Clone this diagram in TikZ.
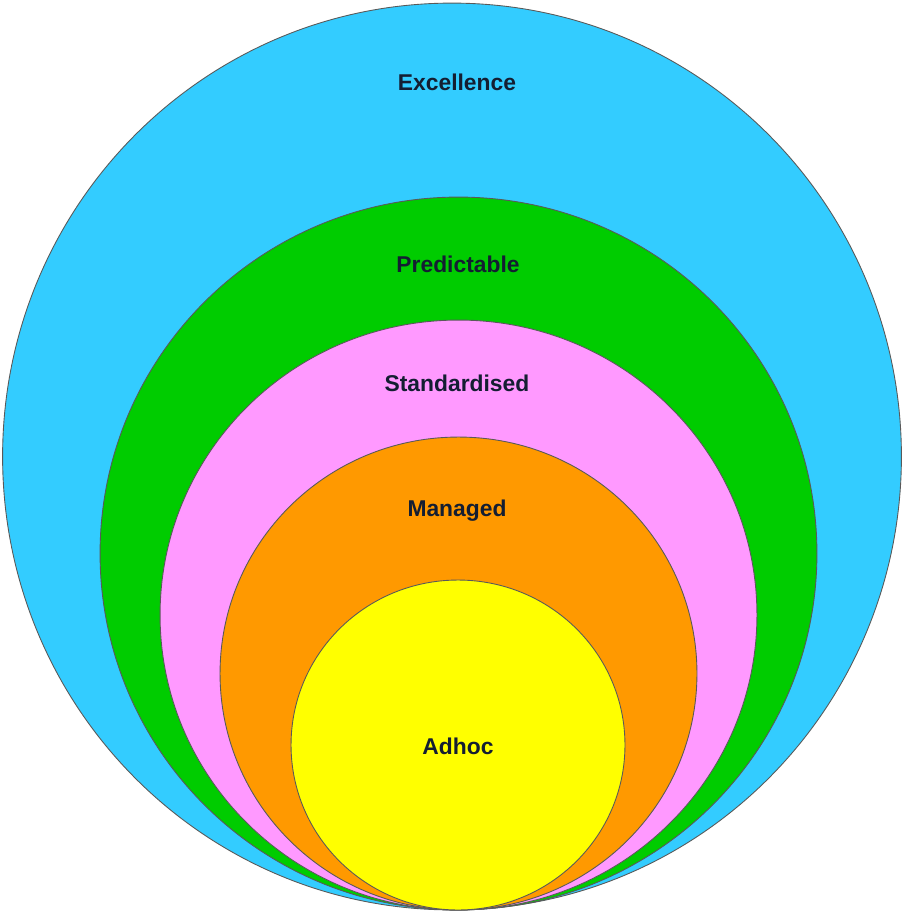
\documentclass[tikz,border=0pt]{standalone}
\usepackage{fontspec}
\setmainfont{Liberation Sans}
\definecolor{skyblue}{RGB}{51,204,255}
\definecolor{leafgreen}{RGB}{0,204,0}
\definecolor{softpink}{RGB}{255,153,255}
\definecolor{deeporange}{RGB}{255,153,0}
\definecolor{brightyellow}{RGB}{255,255,0}
\definecolor{labelnavy}{RGB}{20,30,50}
\usetikzlibrary{shapes.geometric}

\tikzset{
  level/.style={ellipse, draw=black!65, line width=0.5pt, inner sep=0pt},
  levellabel/.style={font=\fontsize{13}{15}\selectfont\bfseries, text=labelnavy}
}

\begin{document}
\begin{tikzpicture}[x=0.02cm, y=-0.02cm]
  \useasboundingbox (0,0) rectangle (904,912);
  % nested maturity levels, all touching at the bottom
  \node[level, fill=skyblue, minimum width=17.98cm, minimum height=18.14cm]
    (excellence) at (452,456.5) {};
  \node[level, fill=leafgreen, minimum width=14.34cm, minimum height=14.26cm]
    (predictable) at (458.5,553.5) {};
  \node[level, fill=softpink, minimum width=11.94cm, minimum height=11.8cm]
    (standardised) at (458.5,615) {};
  \node[level, fill=deeporange, minimum width=9.54cm, minimum height=9.46cm]
    (managed) at (458.5,673.5) {};
  \node[level, fill=brightyellow, minimum width=6.68cm, minimum height=6.6cm]
    (adhoc) at (458,745) {};
  % labels
  \node[levellabel] (excellencetxt) at (457,82) {Excellence};
  \node[levellabel] (predictabletxt) at (458,264) {Predictable};
  \node[levellabel] (standardisedtxt) at (457,383) {Standardised};
  \node[levellabel] (managedtxt) at (457,511) {Managed};
  \node[levellabel] (adhoctxt) at (458,746) {Adhoc};
\end{tikzpicture}
\end{document}
